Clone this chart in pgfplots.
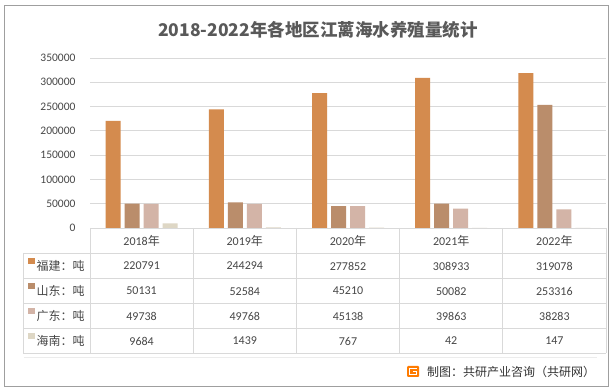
\documentclass[border=0pt]{standalone}
\usepackage{pgfplots}
\pgfplotsset{compat=1.18}
\usepackage{pgfplotstable}
\usepackage{fontspec}
\setmainfont{Carlito}
\newfontfamily\cjk{Noto Sans CJK SC}
\definecolor{cfj}{HTML}{D48B4E}
\definecolor{csd}{HTML}{BA8D6B}
\definecolor{cgd}{HTML}{D3B4A7}
\definecolor{chn}{HTML}{DED7C5}
\definecolor{txt}{HTML}{595959}
\definecolor{ttxt}{HTML}{474747}
\definecolor{gridc}{HTML}{D9D9D9}
\pgfplotstableread{
x fj sd gd hn
0.5 220791 50131 49738 9684
1.5 244294 52584 49768 1439
2.5 277852 45210 45138 767
3.5 308933 50082 39863 42
4.5 319078 253316 38283 147
}\data
\begin{document}
\begin{tikzpicture}[x=1pt,y=1pt]
\path[use as bounding box] (0,0) rectangle (615,390);
\begin{scope}[shift={(0,390)}, y=-1pt]
\draw[fill=white, draw=gray!75, line width=0.9pt] (4,5) rectangle (608,386);
\end{scope}
\begin{axis}[at={(90pt,162pt)}, anchor=origin, scale only axis,
  width=516pt, height=170pt,
  xmin=0, xmax=5, ymin=0, ymax=350000,
  ybar=4pt, bar width=15pt,
  axis line style={draw=none},
  ymajorgrids, grid style={gridc, line width=0.8pt},
  ytick={0,50000,...,350000}, xtick=\empty,
  scaled y ticks=false,
  tick style={draw=none},
  /pgf/number format/assume math mode=true,
  /pgf/number format/fixed,
  /pgf/number format/1000 sep={},
  yticklabel style={font=\fontsize{11.5}{12}\selectfont, text=ttxt, xshift=-11pt},
  clip=false]
\addplot[fill=cfj, draw=none] table[x=x,y=fj]{\data};
\addplot[fill=csd, draw=none] table[x=x,y=sd]{\data};
\addplot[fill=cgd, draw=none] table[x=x,y=gd]{\data};
\addplot[fill=chn, draw=none] table[x=x,y=hn]{\data};
\end{axis}
\begin{scope}[shift={(0,390)}, y=-1pt]
% title
\node[text=txt, font=\fontsize{17.5}{20}\selectfont\cjk\bfseries] at (318,30) {2018-2022年各地区江蓠海水养殖量统计};
% table lines
\begin{scope}[draw=gridc, line width=0.8pt]
\foreach \yy in {253,278,303,328,353} \draw (23,\yy) -- (606,\yy);
\draw (23,253) -- (23,353);
\foreach \k in {0,...,5} \draw ({90+103.2*\k},228) -- ({90+103.2*\k},353);
\end{scope}
% header
\foreach \i/\yr in {0/2018,1/2019,2/2020,3/2021,4/2022}
  \node[text=ttxt, font=\fontsize{12}{14}\selectfont] at ({90+103.2*\i+51.6},241) {\yr{\cjk 年}};
% row labels
\foreach \r/\c/\lab in {0/cfj/福建：吨,1/csd/山东：吨,2/cgd/广东：吨,3/chn/海南：吨}{
  \fill[\c] (28,{258+25*\r}) rectangle (34.5,{264.5+25*\r});
  \node[anchor=west, inner sep=0pt, text=ttxt, font=\fontsize{12}{14}\selectfont\cjk] at (36.5,{266+25*\r}) {\lab};
}
% values
\foreach \r/\col in {0/fj,1/sd,2/gd,3/hn}{
  \foreach \i in {0,...,4}{
    \pgfplotstablegetelem{\i}{\col}\of\data
    \node[text=ttxt, font=\fontsize{12}{14}\selectfont] at ({90+103.2*\i+51.6},{266+25*\r}) {\pgfplotsretval};
  }
}
% footer
\draw[gray!15, line width=0.8pt] (24,357) -- (597,357);
\fill[orange!85!red!90!yellow, rounded corners=1pt] (407,366) rectangle (419,377);
\draw[white, line width=1.3pt] (417,368.5) -- (409.5,368.5) -- (409.5,374.5) -- (416.5,374.5) -- (416.5,371.5) -- (413,371.5);
\node[anchor=west, inner sep=0pt, text=black!80, font=\fontsize{12}{14}\selectfont\cjk] at (427,371.5) {制图：共研产业咨询（共研网）};
\end{scope}
\end{tikzpicture}
\end{document}
